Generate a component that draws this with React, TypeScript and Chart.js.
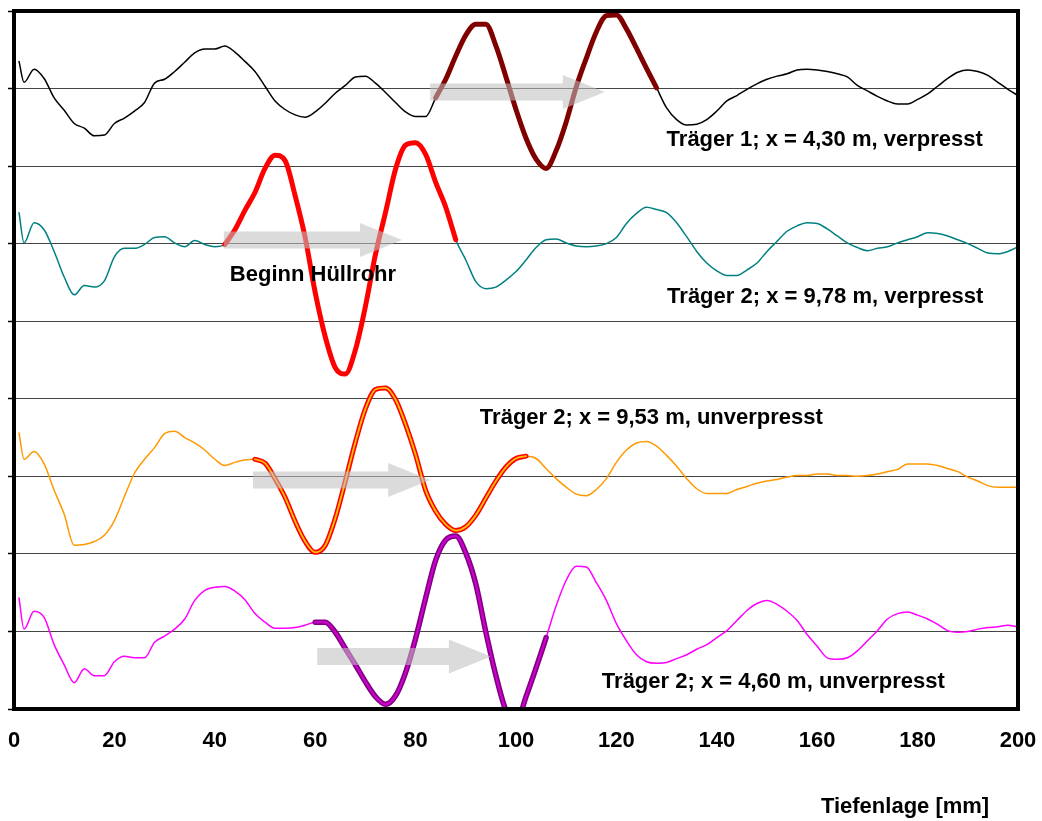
import React, { useEffect, useRef } from "react";
import { Chart, registerables } from "chart.js";

Chart.register(...registerables);

// Tiefenlage [mm]
const xs = [
  1, 2, 4, 6, 8, 10, 12, 14, 16, 18,
  20, 22, 24, 26, 28, 30, 32, 34, 36, 38,
  40, 42, 44, 46, 48, 50, 52, 54, 56, 58,
  60, 62, 64, 66, 68, 70, 72, 74, 76, 78,
  80, 82, 84, 86, 88, 90, 92, 94, 96, 98,
  100, 102, 104, 106, 108, 110, 112, 114, 116, 118,
  120, 122, 124, 126, 128, 130, 132, 134, 136, 138,
  140, 142, 144, 146, 148, 150, 152, 154, 156, 158,
  160, 162, 164, 166, 168, 170, 172, 174, 176, 178,
  180, 182, 184, 186, 188, 190, 192, 194, 196, 198,
  200,
];

// Träger 1; x = 4,30 m, verpresst
const traeger1_430 = [
  3.5, 0.8, 2.5, 1.3, -1.2, -2.8, -4.5, -5.1, -6.1, -6.0,
  -4.5, -3.8, -2.9, -1.8, 0.7, 1.2, 2.2, 3.4, 4.6, 5.1,
  5.1, 5.5, 4.7, 3.5, 2.2, 0.3, -1.6, -2.7, -3.4, -3.7,
  -3.0, -1.9, -0.6, 0.4, 1.5, 1.6, 0.7, -0.5, -1.8, -3.0,
  -3.6, -3.6, -1.2, 1.2, 4.2, 6.9, 8.3, 8.3, 5.5, 1.5,
  -2.7, -6.4, -9.1, -10.3, -8.0, -4.3, 0.2, 3.9, 7.3, 9.4,
  9.5, 7.7, 5.2, 2.6, 0.1, -2.5, -4.0, -4.7, -4.6, -4.0,
  -2.9, -1.6, -0.9, -0.1, 0.6, 1.2, 1.6, 1.9, 2.4, 2.5,
  2.4, 2.2, 1.9, 1.5, 0.4, -0.3, -1.0, -1.6, -2.0, -2.0,
  -1.4, -0.7, 0.3, 1.3, 2.1, 2.4, 2.2, 1.7, 0.8, -0.1,
  -0.9,
];

// Träger 2; x = 9,78 m, verpresst
const traeger2_978 = [
  4.0, 0.1, 2.7, 1.8, -1.0, -4.3, -6.6, -5.4, -5.6, -4.8,
  -1.7, -0.6, -0.6, -0.1, 0.8, 0.9, 0.1, -0.4, 0.4, -0.1,
  -0.4, -0.1, 1.8, 4.3, 6.6, 9.7, 11.4, 10.7, 6.2, 0.8,
  -6.3, -12.0, -16.0, -16.8, -13.7, -8.1, -1.4, 4.0, 9.6, 12.7,
  13.0, 11.5, 7.9, 4.7, 0.5, -2.1, -4.9, -5.8, -5.6, -4.7,
  -3.6, -2.1, -0.5, 0.5, 0.6, 0.1, -0.3, -0.4, -0.3, 0.0,
  0.8, 2.6, 3.9, 4.7, 4.4, 4.0, 2.7, 0.9, -1.0, -2.5,
  -3.5, -4.1, -4.1, -3.4, -2.5, -1.0, 0.3, 1.6, 2.3, 2.7,
  2.6, 1.9, 1.0, 0.1, -0.5, -0.9, -0.6, -0.4, 0.1, 0.5,
  0.9, 1.4, 1.3, 1.0, 0.5, 0.0, -0.6, -1.2, -1.3, -1.0,
  -0.4,
];

// Träger 2; x = 9,53 m, unverpresst
const traeger2_953 = [
  5.6, 2.2, 3.2, 1.6, -1.8, -4.9, -8.9, -8.8, -8.4, -7.6,
  -5.7, -2.6, 0.4, 2.2, 3.7, 5.5, 5.8, 5.0, 4.3, 3.4,
  2.2, 1.4, 1.8, 2.1, 2.2, 1.7, -0.3, -2.7, -5.8, -8.4,
  -9.8, -8.9, -5.4, -0.6, 4.4, 8.7, 11.2, 11.4, 9.9, 6.7,
  2.8, -1.8, -4.5, -6.2, -7.0, -6.5, -5.0, -2.8, -0.6, 1.2,
  2.3, 2.6, 2.3, 1.0, -0.3, -1.4, -2.3, -2.5, -1.7, -0.3,
  1.8, 3.4, 4.3, 4.5, 3.9, 2.7, 1.3, -0.3, -1.6, -2.2,
  -2.2, -2.2, -1.7, -1.3, -0.9, -0.6, -0.4, -0.1, 0.1, 0.1,
  0.3, 0.3, 0.1, 0.1, 0.0, 0.1, 0.3, 0.6, 0.9, 1.6,
  1.6, 1.6, 1.4, 1.0, 0.6, -0.1, -0.6, -1.2, -1.4, -1.4,
  -1.4,
];

// Träger 2; x = 4,60 m, unverpresst
const traeger2_460 = [
  4.3, 0.3, 2.6, 1.8, -1.7, -4.3, -6.6, -4.8, -5.7, -5.7,
  -3.9, -3.2, -3.4, -3.4, -1.4, -0.6, 0.3, 1.6, 4.0, 5.3,
  5.7, 5.8, 5.2, 4.1, 2.3, 1.2, 0.4, 0.4, 0.5, 0.8,
  1.2, 1.2, -0.1, -2.2, -4.3, -6.5, -8.4, -9.4, -8.3, -5.3,
  -0.9, 4.3, 9.2, 11.8, 12.3, 10.1, 6.1, -0.1, -5.7, -10.2,
  -11.8, -8.4, -4.7, -0.8, 3.3, 6.6, 8.4, 8.3, 6.3, 4.0,
  1.0, -1.2, -3.0, -3.9, -4.1, -4.0, -3.5, -3.0, -2.3, -1.7,
  -0.8, 0.1, 1.4, 2.7, 3.6, 4.0, 3.5, 2.6, 1.4, -0.4,
  -1.9, -3.4, -3.6, -3.4, -2.5, -1.2, 0.1, 1.6, 2.3, 2.5,
  2.1, 1.6, 0.9, 0.1, -0.1, 0.0, 0.3, 0.5, 0.6, 0.8,
  0.6,
];

// vertical offsets of each trace (grid units)
const baselines = [80, 60, 30, 10];
// highlighted wavelet ranges [mm]
const highlightFrom = [84, 42, 48, 60];
const highlightTo = [128, 88, 102, 106];

const xTickValues = [0, 20, 40, 60, 80, 100, 120, 140, 160, 180, 200];
const xAxisTitle = "Tiefenlage [mm]";

const labelTexts = [
  "Träger 1; x = 4,30 m, verpresst",
  "Träger 2; x = 9,78 m, verpresst",
  "Beginn Hüllrohr",
  "Träger 2; x = 9,53 m, unverpresst",
  "Träger 2; x = 4,60 m, unverpresst",
];
const labelX = [130.0, 130.1, 43.0, 92.8, 117.1];
const labelY = [72.6, 52.3, 55.2, 36.8, 2.65];

const arrowFrom = [82.9, 41.8, 47.6, 60.4];
const arrowTo = [117.7, 77.3, 82.9, 95.0];
const arrowY = [79.55, 60.46, 29.53, 6.77];

const FONT = '"Liberation Sans", Arial, Helvetica, sans-serif';

const allTraces = [traeger1_430, traeger2_978, traeger2_953, traeger2_460];

function fullSeries(k: number) {
  return xs.map((x, i) => ({ x, y: baselines[k] + allTraces[k][i] }));
}
function segSeries(k: number) {
  return fullSeries(k).filter((p) => p.x >= highlightFrom[k] && p.x <= highlightTo[k]);
}

const overlayPlugin = {
  id: "overlay",
  afterDatasetsDraw(chart: any) {
    const { ctx, chartArea, scales } = chart;
    const xS = scales.x;
    const yS = scales.y;
    ctx.save();
    // frame
    ctx.strokeStyle = "#000";
    ctx.lineWidth = 4;
    ctx.strokeRect(
      chartArea.left,
      chartArea.top,
      chartArea.right - chartArea.left,
      chartArea.bottom - chartArea.top
    );
    // arrows
    ctx.fillStyle = "rgba(192,192,192,0.57)";
    for (let i = 0; i < arrowFrom.length; i++) {
      const x0 = xS.getPixelForValue(arrowFrom[i]);
      const x1 = xS.getPixelForValue(arrowTo[i]);
      const y = yS.getPixelForValue(arrowY[i]);
      const bh = 8.5;
      const hh = 17;
      const hl = 42;
      ctx.beginPath();
      ctx.moveTo(x0, y - bh);
      ctx.lineTo(x1 - hl, y - bh);
      ctx.lineTo(x1 - hl, y - hh);
      ctx.lineTo(x1, y);
      ctx.lineTo(x1 - hl, y + hh);
      ctx.lineTo(x1 - hl, y + bh);
      ctx.lineTo(x0, y + bh);
      ctx.closePath();
      ctx.fill();
    }
    // labels
    ctx.fillStyle = "#000";
    ctx.font = `bold 22px ${FONT}`;
    ctx.textAlign = "left";
    ctx.textBaseline = "alphabetic";
    for (let i = 0; i < labelTexts.length; i++) {
      ctx.fillText(labelTexts[i], xS.getPixelForValue(labelX[i]), yS.getPixelForValue(labelY[i]));
    }
    // axis title
    ctx.textAlign = "center";
    ctx.fillText(xAxisTitle, xS.getPixelForValue(177.5), chartArea.bottom + 104);
    ctx.restore();
  },
};

export default function App() {
  const ref = useRef<HTMLCanvasElement | null>(null);
  useEffect(() => {
    if (!ref.current) return;
    const base = {
      pointRadius: 0,
      cubicInterpolationMode: "monotone",
      borderJoinStyle: "round",
      borderCapStyle: "round",
      clip: 0,
    };
    const datasets: any[] = [
      { ...base, label: labelTexts[0], data: fullSeries(0), borderColor: "#000000", borderWidth: 1.5, order: 10 },
      { ...base, label: labelTexts[1], data: fullSeries(1), borderColor: "#008080", borderWidth: 1.5, order: 10 },
      { ...base, label: labelTexts[3], data: fullSeries(2), borderColor: "#FF9900", borderWidth: 1.5, order: 10 },
      { ...base, label: labelTexts[4], data: fullSeries(3), borderColor: "#FF00FF", borderWidth: 1.5, order: 10 },
      { ...base, label: "h1", data: segSeries(0), borderColor: "#800000", borderWidth: 5, order: 5 },
      { ...base, label: "h2", data: segSeries(1), borderColor: "#FF0000", borderWidth: 5, order: 5 },
      { ...base, label: "h3", data: segSeries(2), borderColor: "#FF0000", borderWidth: 5, order: 5 },
      { ...base, label: "h3i", data: segSeries(2), borderColor: "#FFC000", borderWidth: 1.8, order: 2 },
      { ...base, label: "h4", data: segSeries(3), borderColor: "#800080", borderWidth: 5.5, order: 5 },
      { ...base, label: "h4i", data: segSeries(3), borderColor: "#CC00CC", borderWidth: 2.2, order: 2 },
    ];
    const chart = new Chart(ref.current, {
      type: "line",
      data: { datasets },
      options: {
        animation: false,
        responsive: false,
        events: [],
        layout: { padding: { left: 0, top: 11, right: 24, bottom: 0 } },
        plugins: { legend: { display: false }, tooltip: { enabled: false }, title: { display: false } },
        scales: {
          x: {
            type: "linear",
            min: 0,
            max: 200,
            afterFit: (s: any) => {
              s.height = 112;
              s.paddingLeft = 0;
              s.paddingRight = 0;
            },
            afterBuildTicks: (s: any) => {
              s.ticks = xTickValues.map((v) => ({ value: v }));
            },
            border: { display: false },
            grid: { display: false, drawTicks: false },
            ticks: {
              color: "#000",
              padding: 19,
              maxRotation: 0,
              font: { family: FONT, size: 22, weight: "bold" },
            },
          },
          y: {
            type: "linear",
            min: 0,
            max: 90,
            afterFit: (s: any) => {
              s.width = 14;
              s.paddingTop = 0;
              s.paddingBottom = 0;
            },
            border: { display: false },
            grid: { color: "#444", lineWidth: 1, drawTicks: true, tickLength: 6, tickColor: "#000", tickWidth: 1.5 },
            ticks: { display: false, stepSize: 10 },
          },
        },
      } as any,
      plugins: [overlayPlugin],
    });
    return () => chart.destroy();
  }, []);
  return (
    <div style={{ position: "fixed", left: 0, top: 0, width: 1042, height: 821, background: "#fff" }}>
      <canvas ref={ref} width={1042} height={821} style={{ display: "block", width: 1042, height: 821 }} />
    </div>
  );
}
